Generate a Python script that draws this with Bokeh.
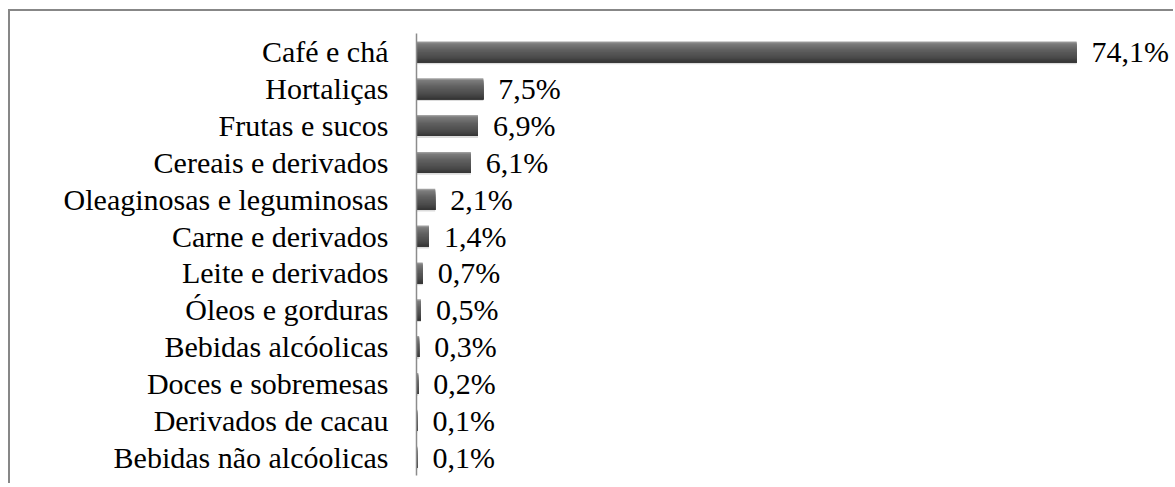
from bokeh.plotting import figure
from bokeh.models import ColumnDataSource, FactorRange, Range1d
from bokeh.transform import dodge
from bokeh.core.properties import value
from bokeh.embed import file_html
from bokeh.resources import INLINE

categories = [
    "Café e chá", "Hortaliças", "Frutas e sucos", "Cereais e derivados",
    "Oleaginosas e leguminosas", "Carne e derivados", "Leite e derivados",
    "Óleos e gorduras", "Bebidas alcóolicas", "Doces e sobremesas",
    "Derivados de cacau", "Bebidas não alcóolicas",
]
values = [74.1, 7.5, 6.9, 6.1, 2.1, 1.4, 0.7, 0.5, 0.3, 0.2, 0.1, 0.1]
labels = [f"{v:.1f}".replace(".", ",") + "%" for v in values]

src = ColumnDataSource(dict(cat=categories, val=values, lab=labels))

FONT = "Liberation Serif"
FSIZE = "30px"

p = figure(
    width=1165, height=474,
    y_range=FactorRange(factors=list(reversed(categories)), range_padding=0),
    x_range=Range1d(0, 85.2),
    output_backend="svg", toolbar_location=None,
    min_border_left=406, min_border_right=0, min_border_top=22, min_border_bottom=10,
    x_axis_location=None,
)
p.styles = {
    "border-top": "2px solid #878787",
    "border-left": "2px solid #878787",
    "margin-left": "8px",
    "margin-top": "9px",
}
p.outline_line_color = None
p.xgrid.visible = False
p.ygrid.visible = False

H = 0.285
# soft shadow
p.hbar(y=dodge("cat", -0.035, range=p.y_range), left=0, right="val", height=2 * H + 0.03,
       source=src, fill_color="#dcdcdc", line_color=None)

# smooth vertical shading (style only): light top edge, mid gray fading to dark bottom
stops = [(0.0, 0xa2), (0.08, 0x7c), (0.35, 0x62), (0.75, 0x4a), (1.0, 0x32)]
n = 24
for i in range(n):
    t = i / n
    for (a, ca), (b, cb) in zip(stops[:-1], stops[1:]):
        if a <= t <= b:
            g = int(round(ca + (cb - ca) * (t - a) / (b - a)))
            break
    col = "#%02x%02x%02x" % (g, g, g)
    p.hbar(y=dodge("cat", H - (t + 1.0) * H, range=p.y_range), left=0, right="val",
           height=(1.0 - t) * 2 * H, source=src, fill_color=col, line_color=None)

p.text(x="val", y="cat", text="lab", source=src, x_offset=15, text_baseline="middle",
       text_align="left", text_font=value(FONT), text_font_size=FSIZE, text_color="#000000")

ax = p.yaxis[0]
ax.axis_line_color = "#8c8c8c"
ax.axis_line_width = 1.5
ax.major_tick_line_color = None
ax.minor_tick_line_color = None
ax.major_tick_out = 0
ax.major_tick_in = 0
ax.major_label_standoff = 28
ax.major_label_text_font = FONT
ax.major_label_text_font_size = FSIZE
ax.major_label_text_color = "#000000"

open("out.html", "w").write(file_html(p, INLINE))
